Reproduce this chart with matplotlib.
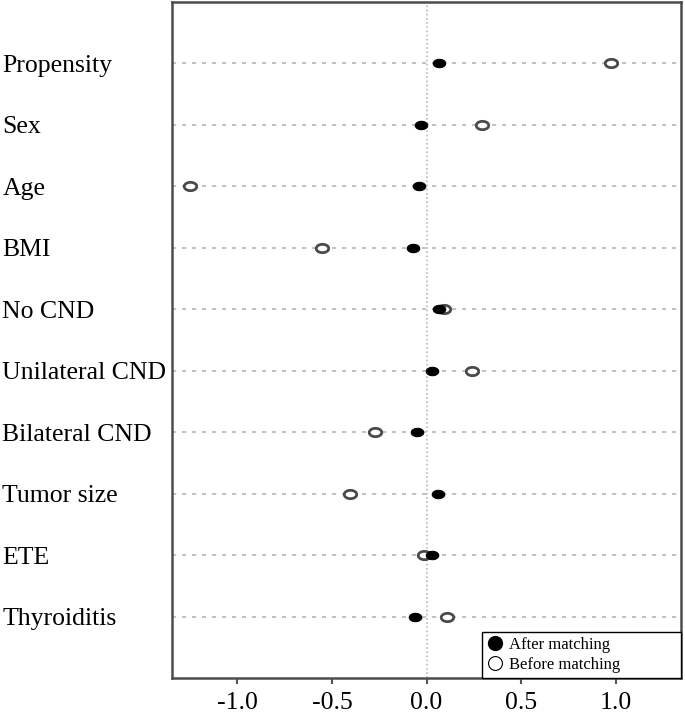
import numpy as np
import matplotlib.pyplot as plt
from matplotlib.path import Path
from matplotlib.lines import Line2D

plt.rcParams['font.family'] = ['Liberation Serif', 'DejaVu Serif']

variables = ["Propensity", "Sex", "Age", "BMI", "No CND", "Unilateral CND",
             "Bilateral CND", "Tumor size", "ETE", "Thyroiditis"]
after_matching = [0.067, -0.028, -0.042, -0.07, 0.065, 0.026, -0.051, 0.058, 0.028, -0.062]
before_matching = [0.974, 0.29, -1.248, -0.55, 0.091, 0.238, -0.275, -0.404, -0.012, 0.11]
xticks = [-1.0, -0.5, 0.0, 0.5, 1.0]

# slightly flattened dot, like the original scan
t = np.linspace(0, 2 * np.pi, 60)
ellipse = Path(np.column_stack([1.5 * np.cos(t), np.sin(t)]))

fig = plt.figure(figsize=(6.85, 7.15), dpi=100)
ax = fig.add_axes([0.251, 0.052, 0.743, 0.945])

ypos = np.arange(len(variables))[::-1]

for y in ypos:
    ax.axhline(y, color='#b8b8b8', lw=1.2, ls=(0, (2.5, 3.5)), zorder=1)
ax.axvline(0, color='#b8b8b8', lw=1.2, ls=(0, (1.0, 1.5)), zorder=1)

ax.plot(before_matching, ypos, ls='none', marker=ellipse, ms=9,
        mfc='white', mec='#4a4a4a', mew=2.0, zorder=3)
ax.plot(after_matching, ypos, ls='none', marker=ellipse, ms=9,
        mfc='black', mec='black', mew=0.8, zorder=4)

ax.set_xlim(-1.345, 1.343)
ax.set_ylim(-0.99, 9.99)
ax.set_xticks(xticks)
ax.set_xticklabels([f"{v:.1f}" for v in xticks], fontsize=18.5)
ax.set_yticks(ypos)
ax.set_yticklabels(variables, fontsize=18.5, ha='left')
ax.tick_params(axis='y', length=0, pad=122)
ax.tick_params(axis='x', length=4, width=1.5, color='#555555', pad=6)

for s in ax.spines.values():
    s.set_color('#4d4d4d')
    s.set_linewidth(1.8)

handles = [
    Line2D([], [], ls='none', marker='o', ms=10, mfc='black', mec='black'),
    Line2D([], [], ls='none', marker='o', ms=10, mfc='white', mec='black', mew=0.8),
]
leg = ax.legend(handles, ["After matching", "Before matching"],
                loc='lower left', bbox_to_anchor=(0.609, 0.0, 0.391, 0.07),
                mode='expand', borderaxespad=0, fancybox=False,
                framealpha=1, edgecolor='black', fontsize=12,
                handlelength=1.0, handletextpad=0.35, labelspacing=0.25,
                borderpad=0.3)
leg.get_frame().set_linewidth(1.0)

fig.savefig("out.png", dpi=100)
